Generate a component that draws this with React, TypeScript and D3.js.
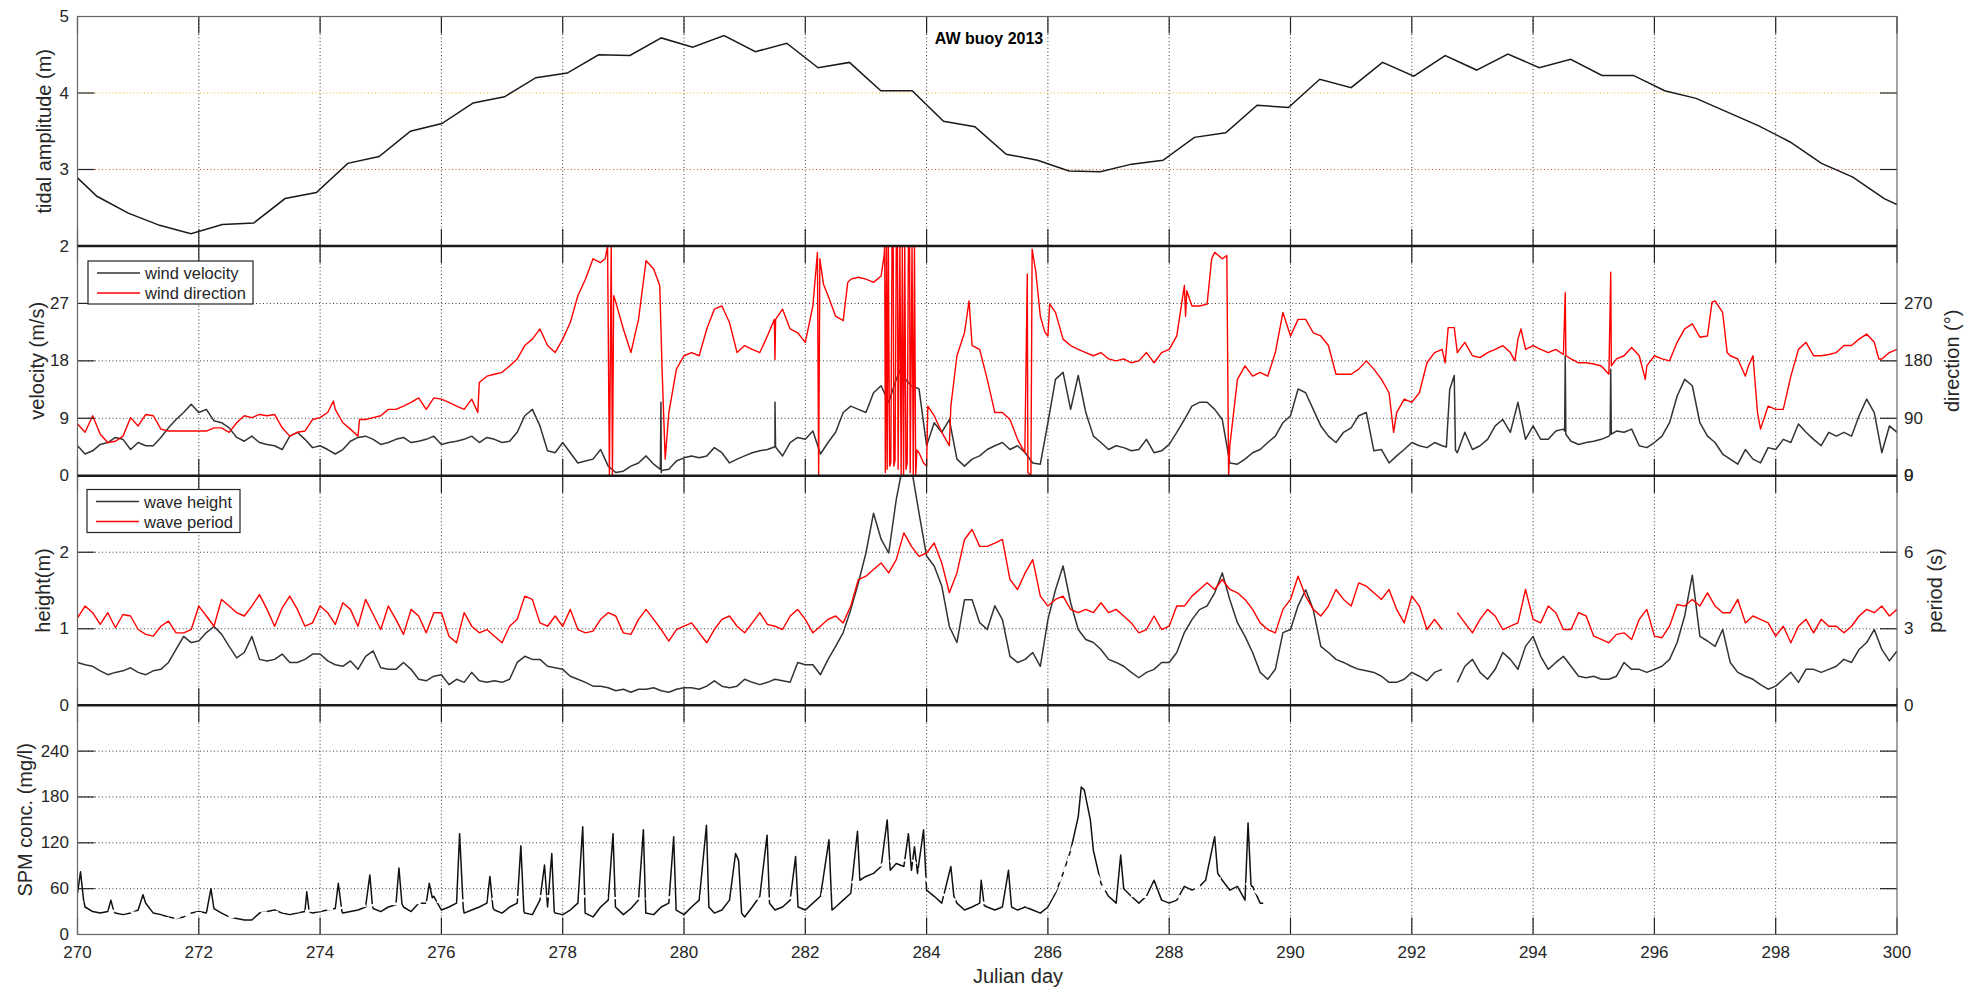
import React from 'react';
import * as d3 from 'd3';

// ---------------- DATA ----------------
const dayTicks = [270, 272, 274, 276, 278, 280, 282, 284, 286, 288, 290, 292, 294, 296, 298, 300];

// tidal amplitude (m): one value per tide
const tidalStartDay = 270.32;
const tidalStep = 0.517;
const tidalFirst: [number, number] = [270, 2.89];
const tidalLast: [number, number] = [300, 2.54];
const tidalAmp = [2.65, 2.43, 2.27, 2.16, 2.28, 2.30, 2.62, 2.70, 3.08, 3.17, 3.5, 3.6, 3.87, 3.95, 4.2, 4.26, 4.5, 4.49, 4.72, 4.6,
  4.75, 4.54, 4.65, 4.33, 4.4, 4.03, 4.03, 3.63, 3.56, 3.2, 3.12, 2.98, 2.97, 3.07, 3.12, 3.42, 3.48, 3.84, 3.81, 4.18,
  4.07, 4.4, 4.22, 4.49, 4.3, 4.51, 4.33, 4.44, 4.23, 4.23, 4.03, 3.93, 3.75, 3.57, 3.36, 3.08, 2.9, 2.62];

// sampled series start at day 270, every 0.125 day
const T0 = 270;
const STEP = 0.125;

const windSpeed = [
  4.7, 3.4, 3.9, 4.9, 5.2, 6.0, 5.7, 4.1,
  5.2, 4.7, 4.7, 6.0, 7.5, 8.8, 9.9, 11.2,
  9.9, 10.4, 8.6, 8.3, 7.5, 6.0, 5.4, 6.2,
  5.2, 4.9, 4.7, 4.1, 6.2, 6.8, 5.7, 4.4,
  4.7, 4.1, 3.4, 4.1, 5.4, 6.0, 6.2, 5.7,
  4.9, 5.2, 5.7, 6.0, 5.2, 5.4, 5.7, 6.2,
  4.9, 5.2, 5.4, 5.7, 6.2, 5.2, 6.0, 5.7,
  5.2, 5.4, 6.8, 9.4, 10.4, 7.8, 3.9, 3.6,
  5.2, 3.6, 2.0, 2.3, 2.6, 4.1, 1.5, 0.5,
  0.7, 1.5, 2.0, 3.1, 1.8, 0.5, 1.0, 2.3,
  2.8, 3.1, 2.8, 3.1, 4.4, 3.6, 2.0, 2.6,
  3.1, 3.6, 3.9, 4.1, 4.7, 3.1, 5.2, 6.0,
  5.7, 7.0, 3.4, 5.2, 6.8, 9.9, 10.9, 10.4,
  9.9, 13.0, 14.1, 11.5, 15.1, 15.7, 14.1, 13.6,
  4.7, 8.3, 6.8, 8.8, 2.6, 1.5, 2.6, 3.1,
  4.1, 4.7, 5.2, 4.1, 4.7, 3.6, 2.0, 1.8,
  8.3, 15.1, 16.2, 10.4, 15.7, 9.9, 6.2, 5.2,
  4.1, 4.7, 4.4, 3.9, 4.1, 5.7, 3.6, 3.9,
  4.9, 6.8, 8.8, 10.9, 11.5, 11.5, 10.4, 8.8,
  2.0, 1.8, 2.6, 3.6, 4.1, 5.2, 6.2, 8.3,
  9.4, 13.6, 13.0, 10.4, 7.8, 6.2, 5.2, 6.8,
  7.5, 9.4, 9.9, 3.9, 4.1, 2.0, 3.1, 4.1,
  5.2, 4.7, 4.4, 5.2, 4.7, 13.5, 3.6, 6.8,
  4.1, 4.7, 5.7, 7.8, 8.8, 6.8, 11.5, 5.7,
  7.8, 5.7, 5.7, 7.0, 7.3, 5.4, 4.9, 5.2,
  5.4, 5.7, 6.2, 7.0, 6.8, 7.3, 4.7, 4.4,
  5.2, 6.2, 8.3, 12.5, 15.1, 14.1, 8.3, 6.2,
  5.2, 3.4, 2.6, 1.8, 4.1, 2.6, 2.0, 4.4,
  4.1, 5.7, 5.2, 8.1, 6.8, 5.7, 4.7, 6.8,
  6.2, 6.8, 6.2, 9.4, 12.0, 9.9, 3.6, 7.8,
  6.8];

const windSpeedSpikes: [number, number][] = [
  [279.61, 1.0], [279.62, 11.5], [279.63, 0.8],
  [281.49, 4.5], [281.5, 11.5], [281.51, 4.5],
  [283.56, 16.5], [283.6, 17.7], [283.66, 15.0],
  [292.57, 4.5], [292.7, 15.7], [292.72, 4.0],
  [294.52, 7.0], [294.53, 18.8], [294.54, 6.5],
  [295.27, 6.5], [295.28, 16.7], [295.29, 6.5]];

const windDir: [number, number][] = [
  [270.0, 81], [270.125, 68], [270.25, 94], [270.375, 65], [270.5, 52], [270.625, 54], [270.75, 62], [270.875, 91],
  [271.0, 78], [271.125, 96], [271.25, 94], [271.375, 73], [271.5, 70], [271.625, 70], [271.75, 70], [271.875, 70],
  [272.0, 70], [272.125, 70], [272.25, 75], [272.375, 75], [272.5, 68], [272.625, 83], [272.75, 94], [272.875, 91],
  [273.0, 96], [273.125, 94], [273.25, 96], [273.375, 75], [273.5, 62], [273.625, 68], [273.75, 70], [273.875, 88],
  [274.0, 91], [274.125, 99], [274.22, 117], [274.25, 104], [274.375, 83], [274.5, 73], [274.625, 62], [274.65, 88], [274.75, 88], [274.875, 91],
  [275.0, 94], [275.125, 104], [275.25, 104], [275.375, 109], [275.5, 115], [275.625, 122], [275.75, 104], [275.875, 122],
  [276.0, 120], [276.125, 115], [276.25, 109], [276.375, 104], [276.5, 120], [276.6, 99], [276.625, 146], [276.75, 156], [276.875, 159],
  [277.0, 162], [277.125, 172], [277.25, 183], [277.375, 204], [277.5, 214], [277.625, 230], [277.75, 204], [277.875, 193],
  [278.0, 214], [278.125, 240], [278.25, 282], [278.375, 308], [278.5, 340], [278.625, 334], [278.7, 340], [278.74, 360], [278.77, 0], [278.8, 360], [278.82, 0], [278.84, 282], [278.875, 272],
  [279.0, 230], [279.125, 193], [279.25, 245], [279.375, 337], [279.5, 324], [279.6, 298], [279.64, 162], [279.69, 26], [279.75, 99], [279.875, 167],
  [280.0, 188], [280.125, 193], [280.25, 188], [280.375, 230], [280.5, 261], [280.625, 266], [280.75, 240], [280.875, 193],
  [281.0, 204], [281.125, 198], [281.25, 193], [281.375, 219], [281.49, 245], [281.5, 182], [281.51, 245], [281.625, 261], [281.75, 230], [281.875, 224],
  [282.0, 209], [282.125, 266], [282.2, 350], [282.22, 0], [282.24, 340], [282.3, 300], [282.375, 282], [282.5, 250], [282.625, 243], [282.7, 303], [282.75, 308], [282.875, 311],
  [283.0, 308], [283.125, 303], [283.25, 313], [283.3, 345],
  [283.31, 360], [283.32, 5], [283.34, 360], [283.35, 10], [283.37, 360], [283.39, 15], [283.41, 20], [283.43, 360], [283.45, 360], [283.46, 15],
  [283.48, 25], [283.5, 360], [283.52, 360], [283.53, 10], [283.56, 360], [283.58, 0], [283.6, 360], [283.62, 0], [283.64, 360], [283.66, 10],
  [283.68, 20], [283.7, 360], [283.72, 360], [283.73, 5], [283.76, 360], [283.78, 0], [283.8, 360], [283.82, 0], [283.84, 40], [283.875, 36],
  [283.95, 20], [284.0, 15], [284.02, 109], [284.125, 94], [284.25, 68], [284.375, 47], [284.4, 109], [284.5, 188], [284.625, 224], [284.7, 274],
  [284.75, 204], [284.875, 198], [285.0, 151], [285.125, 99], [285.25, 99], [285.375, 88], [285.5, 57], [285.62, 36], [285.66, 316], [285.67, 5],
  [285.72, 0], [285.74, 355], [285.8, 320], [285.875, 250], [285.95, 225], [286.0, 219], [286.03, 269], [286.125, 256], [286.25, 214], [286.375, 204],
  [286.5, 198], [286.625, 193], [286.75, 188], [286.875, 193], [287.0, 183], [287.125, 180], [287.25, 183], [287.375, 177], [287.5, 180], [287.625, 193],
  [287.75, 177], [287.875, 193], [288.0, 198], [288.125, 219], [288.25, 298], [288.27, 250], [288.29, 290], [288.375, 266], [288.5, 266], [288.625, 269],
  [288.7, 340], [288.75, 350], [288.875, 340], [288.95, 345], [288.98, 0], [289.0, 47], [289.125, 151], [289.25, 172], [289.375, 156], [289.5, 162],
  [289.625, 156], [289.75, 193], [289.875, 256], [290.0, 219], [290.125, 245], [290.25, 245], [290.375, 224], [290.5, 219], [290.625, 204], [290.75, 159],
  [290.875, 159], [291.0, 159], [291.125, 167], [291.25, 180], [291.375, 167], [291.5, 151], [291.625, 130], [291.7, 68], [291.75, 99], [291.875, 120],
  [292.0, 115], [292.125, 130], [292.25, 177], [292.375, 193], [292.5, 198], [292.55, 177], [292.6, 232], [292.7, 232], [292.75, 193], [292.875, 209],
  [293.0, 188], [293.125, 185], [293.25, 193], [293.375, 198], [293.5, 204], [293.625, 193], [293.7, 180], [293.75, 214], [293.8, 230], [293.875, 198],
  [294.0, 204], [294.125, 198], [294.25, 193], [294.375, 198], [294.5, 190], [294.53, 287], [294.54, 188], [294.625, 183], [294.75, 177], [294.875, 177],
  [295.0, 175], [295.125, 172], [295.25, 159], [295.28, 319], [295.29, 172], [295.375, 183], [295.5, 188], [295.625, 201], [295.75, 188], [295.85, 151],
  [295.875, 172], [296.0, 188], [296.125, 183], [296.25, 180], [296.375, 209], [296.5, 230], [296.625, 238], [296.75, 217], [296.875, 219], [296.95, 272],
  [297.0, 274], [297.125, 256], [297.2, 193], [297.25, 188], [297.375, 183], [297.5, 156], [297.55, 172], [297.625, 188], [297.7, 99], [297.75, 73],
  [297.875, 109], [298.0, 104], [298.125, 104], [298.25, 156], [298.375, 198], [298.5, 209], [298.625, 188], [298.75, 188], [298.875, 190], [299.0, 193],
  [299.125, 204], [299.25, 204], [299.375, 214], [299.5, 222], [299.625, 209], [299.7, 183], [299.75, 183], [299.875, 193], [300.0, 198]];

const waveHeight: (number | null)[] = [
  0.56, 0.53, 0.51, 0.45, 0.40, 0.43, 0.45, 0.49,
  0.43, 0.40, 0.45, 0.47, 0.56, 0.73, 0.90, 0.82,
  0.84, 0.95, 1.03, 0.93, 0.77, 0.62, 0.69, 0.90,
  0.60, 0.58, 0.60, 0.67, 0.56, 0.56, 0.60, 0.67,
  0.67, 0.58, 0.53, 0.51, 0.58, 0.47, 0.64, 0.71,
  0.49, 0.47, 0.47, 0.56, 0.47, 0.34, 0.32, 0.38,
  0.40, 0.27, 0.34, 0.30, 0.43, 0.32, 0.30, 0.32,
  0.30, 0.34, 0.56, 0.64, 0.60, 0.60, 0.51, 0.49,
  0.47, 0.38, 0.34, 0.30, 0.25, 0.25, 0.23, 0.19,
  0.21, 0.17, 0.21, 0.21, 0.23, 0.19, 0.17, 0.21,
  0.23, 0.23, 0.21, 0.25, 0.32, 0.25, 0.23, 0.25,
  0.34, 0.30, 0.27, 0.30, 0.34, 0.32, 0.30, 0.56,
  0.53, 0.53, 0.40, 0.60, 0.77, 0.95, 1.25, 1.60,
  1.99, 2.51, 2.17, 1.99, 2.69, 3.2, 3.1, 2.51,
  1.95, 1.82, 1.56, 1.03, 0.82, 1.38, 1.38, 1.08,
  0.99, 1.30, 1.12, 0.64, 0.56, 0.60, 0.69, 0.51,
  1.12, 1.51, 1.82, 1.34, 0.99, 0.86, 0.82, 0.73,
  0.60, 0.56, 0.51, 0.43, 0.36, 0.43, 0.47, 0.56,
  0.56, 0.69, 0.95, 1.12, 1.25, 1.30, 1.47, 1.73,
  1.38, 1.08, 0.90, 0.69, 0.43, 0.34, 0.47, 0.95,
  0.99, 1.30, 1.51, 1.25, 0.77, 0.69, 0.60, 0.56,
  0.51, 0.47, 0.45, 0.43, 0.38, 0.30, 0.30, 0.34,
  0.43, 0.38, 0.32, 0.43, 0.47, null, 0.30, 0.51,
  0.60, 0.43, 0.34, 0.47, 0.69, 0.60, 0.47, 0.77,
  0.90, 0.64, 0.47, 0.56, 0.64, 0.51, 0.38, 0.36,
  0.38, 0.34, 0.34, 0.38, 0.56, 0.47, 0.47, 0.43,
  0.47, 0.51, 0.60, 0.82, 1.17, 1.70, 0.90, 0.84,
  0.77, 0.99, 0.56, 0.43, 0.38, 0.34, 0.27, 0.21,
  0.25, 0.34, 0.43, 0.30, 0.47, 0.47, 0.43, 0.47,
  0.51, 0.60, 0.56, 0.73, 0.82, 0.99, 0.73, 0.58,
  0.71];

const wavePeriod: (number | null)[] = [
  3.43, 3.89, 3.63, 3.17, 3.63, 3.04, 3.56, 3.50,
  2.97, 2.78, 2.71, 3.10, 3.30, 2.84, 2.84, 2.97,
  3.89, 3.50, 3.10, 4.15, 3.89, 3.63, 3.50, 3.89,
  4.34, 3.76, 3.10, 3.82, 4.28, 3.76, 3.10, 3.23,
  3.89, 3.63, 3.17, 4.02, 3.76, 3.10, 4.15, 3.56,
  2.97, 3.89, 3.37, 2.78, 3.76, 3.50, 2.84, 3.63,
  3.63, 2.71, 2.45, 3.63, 3.10, 2.84, 2.97, 2.71,
  2.45, 3.10, 3.37, 4.28, 4.15, 3.23, 3.10, 3.50,
  3.10, 3.76, 2.97, 2.84, 2.91, 3.37, 3.63, 3.50,
  2.84, 2.78, 3.37, 3.76, 3.37, 2.97, 2.52, 2.97,
  3.10, 3.23, 2.84, 2.45, 2.97, 3.37, 3.50, 3.10,
  2.84, 3.23, 3.63, 3.17, 3.10, 2.97, 3.50, 3.76,
  3.37, 2.84, 3.10, 3.37, 3.50, 3.23, 3.89, 4.93,
  5.06, 5.32, 5.58, 5.19, 5.71, 6.76, 6.23, 5.84,
  5.97, 6.36, 5.58, 4.41, 5.19, 6.50, 6.89, 6.23,
  6.23, 6.36, 6.50, 4.93, 4.54, 5.19, 5.71, 4.28,
  3.89, 4.15, 4.28, 3.76, 3.63, 3.76, 3.63, 4.02,
  3.63, 3.76, 3.50, 3.23, 2.84, 2.97, 3.50, 2.97,
  3.10, 3.89, 3.89, 4.28, 4.54, 4.80, 4.54, 4.93,
  4.54, 4.41, 4.15, 3.76, 3.23, 2.97, 2.84, 3.76,
  4.15, 5.06, 4.28, 3.76, 3.50, 3.89, 4.54, 4.15,
  3.89, 4.80, 4.67, 4.41, 4.15, 4.54, 3.76, 3.23,
  4.28, 3.89, 2.97, 3.37, 2.97, null, 3.63, 3.23,
  2.84, 3.37, 3.76, 3.50, 2.97, 3.10, 3.23, 4.54,
  3.37, 3.23, 3.89, 3.63, 2.97, 2.97, 3.63, 3.50,
  2.71, 2.58, 2.45, 2.78, 2.84, 2.58, 3.37, 3.76,
  2.71, 2.65, 3.10, 3.95, 3.89, 4.15, 3.89, 4.41,
  3.89, 3.63, 3.63, 4.15, 3.23, 3.50, 3.37, 3.23,
  2.71, 3.10, 2.45, 3.10, 3.37, 2.84, 3.37, 3.10,
  3.10, 2.84, 3.10, 3.50, 3.76, 3.63, 3.89, 3.50,
  3.76];

const spm: [number, number][] = [
  [270.0, 54], [270.05, 82], [270.1, 45], [270.125, 36], [270.25, 30], [270.375, 28], [270.5, 30], [270.55, 45], [270.6, 30], [270.625, 28], [270.75, 26], [270.875, 28],
  [271.0, 32], [271.08, 52], [271.125, 41], [271.25, 28], [271.375, 26], [271.5, 23], [271.625, 21], [271.75, 23], [271.875, 28],
  [272.0, 30], [272.125, 28], [272.2, 60], [272.25, 34], [272.375, 28], [272.5, 23], [272.625, 21], [272.75, 19], [272.875, 19],
  [273.0, 28], [273.125, 30], [273.25, 32], [273.375, 28], [273.5, 26], [273.625, 28], [273.75, 30], [273.78, 56], [273.82, 30], [273.875, 28],
  [274.0, 30], [274.125, 32], [274.25, 34], [274.3, 67], [274.36, 30], [274.375, 28], [274.5, 30], [274.625, 32], [274.75, 36], [274.82, 78], [274.86, 40], [274.875, 34],
  [275.0, 30], [275.125, 36], [275.25, 39], [275.3, 87], [275.35, 40], [275.375, 36], [275.5, 30], [275.625, 41], [275.75, 41], [275.8, 67], [275.85, 48], [275.875, 50],
  [276.0, 32], [276.125, 36], [276.25, 41], [276.3, 132], [276.36, 35], [276.375, 28], [276.5, 32], [276.625, 36], [276.75, 41], [276.8, 76], [276.85, 35], [276.875, 32],
  [277.0, 28], [277.125, 36], [277.25, 41], [277.31, 116], [277.36, 30], [277.375, 28], [277.5, 26], [277.625, 45], [277.7, 91], [277.75, 36], [277.82, 106], [277.86, 30], [277.875, 28],
  [278.0, 26], [278.125, 32], [278.25, 41], [278.33, 141], [278.37, 28], [278.5, 23], [278.625, 36], [278.75, 45], [278.83, 132], [278.87, 36],
  [279.0, 26], [279.125, 34], [279.25, 45], [279.33, 137], [279.37, 28], [279.5, 26], [279.625, 36], [279.75, 41], [279.83, 128], [279.87, 32],
  [280.0, 26], [280.125, 36], [280.25, 45], [280.37, 143], [280.41, 36], [280.5, 28], [280.625, 32], [280.75, 45], [280.85, 106], [280.9, 97], [280.95, 28],
  [281.0, 23], [281.125, 36], [281.25, 50], [281.37, 130], [281.41, 41], [281.5, 32], [281.625, 36], [281.75, 45], [281.84, 102], [281.88, 36],
  [282.0, 32], [282.125, 41], [282.25, 50], [282.39, 124], [282.44, 32], [282.5, 36], [282.625, 45], [282.75, 54], [282.86, 135], [282.9, 71],
  [283.0, 76], [283.125, 80], [283.25, 89], [283.35, 150], [283.4, 84], [283.5, 93], [283.625, 89], [283.7, 132], [283.75, 84], [283.8, 115], [283.85, 80], [283.95, 137], [284.0, 58],
  [284.125, 50], [284.25, 41], [284.4, 89], [284.45, 50], [284.5, 41], [284.625, 32], [284.75, 36], [284.875, 41], [284.9, 71], [284.95, 38],
  [285.0, 36], [285.125, 32], [285.25, 36], [285.35, 84], [285.4, 36], [285.5, 32], [285.625, 36], [285.75, 32], [285.875, 28],
  [286.0, 36], [286.125, 54], [286.25, 80], [286.375, 110], [286.5, 154], [286.55, 193], [286.6, 189], [286.7, 150], [286.75, 110], [286.875, 67],
  [287.0, 50], [287.125, 41], [287.2, 104], [287.25, 60], [287.375, 50], [287.5, 41], [287.625, 50], [287.75, 71], [287.875, 45],
  [288.0, 41], [288.125, 45], [288.25, 63], [288.375, 58], [288.5, 63], [288.6, 71], [288.75, 128], [288.8, 80], [288.875, 71],
  [289.0, 58], [289.125, 63], [289.25, 45], [289.3, 146], [289.35, 63], [289.375, 63], [289.5, 41], [289.55, 41]];

const spmTrend: [number, number][] = [
  [270, 45], [270.5, 32], [271, 28], [271.5, 21], [272, 28], [272.5, 23], [273, 28], [273.5, 30], [274, 32], [274.5, 36],
  [275, 39], [275.5, 41], [276, 43], [276.5, 45], [277, 47], [277.5, 50], [278, 50], [278.5, 50], [279, 47], [279.5, 47],
  [280, 50], [280.5, 50], [281, 47], [281.5, 47], [282, 50], [282.5, 56], [283, 80], [283.5, 97], [283.75, 97], [284, 71],
  [284.5, 45], [285, 41], [285.5, 36], [286, 45], [286.25, 80], [286.5, 124], [286.75, 89], [287, 54], [287.5, 50], [288, 47],
  [288.5, 63], [289, 76], [289.5, 50]];

// tick labels per panel
const p1LeftTicks = [2, 3, 4, 5];
const p2LeftTicks = [0, 9, 18, 27];
const p2RightTicks = [0, 90, 180, 270];
const p3LeftTicks = [0, 1, 2];
const p3RightTicks = [0, 3, 6, 9];
const p4LeftTicks = [0, 60, 120, 180, 240];

// ---------------- LAYOUT ----------------
const X0 = 77.5, X1 = 1897;
const P = [
  { top: 16.5, bottom: 246 },
  { top: 246, bottom: 475.7 },
  { top: 475.7, bottom: 705.3 },
  { top: 705.3, bottom: 934.5 },
];
const FONT = '"Liberation Sans", Arial, Helvetica, sans-serif';
const TXT = '#262626';
const TICK = 17;

type Pt = [number, number | null];

export default function App() {
  const x = d3.scaleLinear().domain([270, 300]).range([X0, X1]);
  const y1 = d3.scaleLinear().domain([2, 5]).range([P[0].bottom, P[0].top]);
  const y2v = d3.scaleLinear().domain([0, 36]).range([P[1].bottom, P[1].top]);
  const y2d = d3.scaleLinear().domain([0, 360]).range([P[1].bottom, P[1].top]);
  const y3h = d3.scaleLinear().domain([0, 3]).range([P[2].bottom, P[2].top]);
  const y3p = d3.scaleLinear().domain([0, 9]).range([P[2].bottom, P[2].top]);
  const y4 = d3.scaleLinear().domain([0, 300]).range([P[3].bottom, P[3].top]);

  const mk = (ys: d3.ScaleLinear<number, number>, curve: d3.CurveFactory = d3.curveLinear) =>
    d3.line<Pt>().defined(d => d[1] != null).x(d => x(d[0])).y(d => ys(d[1] as number)).curve(curve);

  const sampled = (arr: (number | null)[]): Pt[] => arr.map((v, i) => [T0 + i * STEP, v]);

  const tidalPts: Pt[] = [tidalFirst, ...tidalAmp.map((v, i) => [tidalStartDay + i * tidalStep, v] as Pt), tidalLast];
  const windSpeedPts: Pt[] = (sampled(windSpeed) as Pt[]).concat(windSpeedSpikes).sort((a, b) => a[0] - b[0]);

  const gridDays = dayTicks.filter(d => d > 270 && d < 300);

  const vGrid = (pi: number) =>
    gridDays.map(d => (
      <line key={'vg' + pi + d} x1={x(d)} x2={x(d)} y1={P[pi].top} y2={P[pi].bottom}
        stroke="#3a3a3a" strokeWidth={1} strokeDasharray="1 2.5" />
    ));
  const hGrid = (pi: number, ys: number[], color = '#3a3a3a') =>
    ys.map(yv => (
      <line key={'hg' + pi + yv + color} x1={X0} x2={X1} y1={yv} y2={yv}
        stroke={color} strokeWidth={1} strokeDasharray="1 2.5" />
    ));
  const xTicks = (pi: number) =>
    dayTicks.map(d => (
      <g key={'xt' + pi + d}>
        <line x1={x(d)} x2={x(d)} y1={P[pi].top} y2={P[pi].top + TICK} stroke="#222" strokeWidth={1.2} />
        <line x1={x(d)} x2={x(d)} y1={P[pi].bottom} y2={P[pi].bottom - TICK} stroke="#222" strokeWidth={1.2} />
      </g>
    ));
  const yTicks = (pi: number, ys: number[]) =>
    ys.map(yv => (
      <g key={'yt' + pi + yv}>
        <line x1={X0} x2={X0 + TICK} y1={yv} y2={yv} stroke="#222" strokeWidth={1.2} />
        <line x1={X1} x2={X1 - TICK} y1={yv} y2={yv} stroke="#222" strokeWidth={1.2} />
      </g>
    ));
  const leftLabels = (vals: number[], ys: d3.ScaleLinear<number, number>, k: string) =>
    vals.map(v => (
      <text key={k + v} x={69} y={ys(v)} textAnchor="end" dominantBaseline="central"
        fontSize={17} fill={TXT} fontFamily={FONT}>{v}</text>
    ));
  const rightLabels = (vals: number[], ys: d3.ScaleLinear<number, number>, k: string) =>
    vals.map(v => (
      <text key={k + v} x={1904} y={ys(v)} textAnchor="start" dominantBaseline="central"
        fontSize={17} fill={TXT} fontFamily={FONT}>{v}</text>
    ));
  const yLabel = (t: string, cx: number, cy: number) => (
    <text transform={`translate(${cx},${cy}) rotate(-90)`} textAnchor="middle" dominantBaseline="central"
      fontSize={20} fill={TXT} fontFamily={FONT}>{t}</text>
  );
  const legend = (bx: number, by: number, bw: number, bh: number, items: [string, string][]) => (
    <g>
      <rect x={bx} y={by} width={bw} height={bh} fill="#fff" stroke="#222" strokeWidth={1.2} />
      {items.map(([label, color], i) => (
        <g key={label}>
          <line x1={bx + 9} x2={bx + 52} y1={by + 12 + i * 20} y2={by + 12 + i * 20} stroke={color} strokeWidth={1.3} />
          <text x={bx + 57} y={by + 12 + i * 20} dominantBaseline="central" fontSize={16.5} fill={TXT} fontFamily={FONT}>{label}</text>
        </g>
      ))}
    </g>
  );

  return (
    <svg width={1966} height={990} style={{ position: 'absolute', left: 0, top: 0, background: '#fff' }}>
      <rect x={0} y={0} width={1966} height={990} fill="#fff" />
      <defs>
        {P.map((p, i) => (
          <clipPath id={'clip' + i} key={i}>
            <rect x={X0} y={p.top} width={X1 - X0} height={p.bottom - p.top} />
          </clipPath>
        ))}
      </defs>

      {/* grids */}
      {P.map((_, i) => <g key={'g' + i}>{vGrid(i)}</g>)}
      {hGrid(0, [y1(4)], '#EDB120')}
      {hGrid(0, [y1(3)], '#D95319')}
      {hGrid(1, [9, 18, 27].map(v => y2v(v)))}
      {hGrid(2, [1, 2].map(v => y3h(v)))}
      {hGrid(3, [60, 120, 180, 240].map(v => y4(v)))}

      {/* panel 1 */}
      <g clipPath="url(#clip0)">
        <path d={mk(y1)(tidalPts) || ''} fill="none" stroke="#1a1a1a" strokeWidth={1.5} />
      </g>
      {/* panel 2 */}
      <g clipPath="url(#clip1)">
        <path d={mk(y2v)(windSpeedPts) || ''} fill="none" stroke="#333" strokeWidth={1.5} strokeLinejoin="round" />
        <path d={mk(y2d)(windDir) || ''} fill="none" stroke="#ff0000" strokeWidth={1.4} strokeLinejoin="round" />
      </g>
      {/* panel 3 */}
      <g clipPath="url(#clip2)">
        <path d={mk(y3h)(sampled(waveHeight)) || ''} fill="none" stroke="#333" strokeWidth={1.5} strokeLinejoin="round" />
        <path d={mk(y3p)(sampled(wavePeriod)) || ''} fill="none" stroke="#ff0000" strokeWidth={1.4} strokeLinejoin="round" />
      </g>
      {/* panel 4 */}
      <g clipPath="url(#clip3)">
        <path d={mk(y4)(spm) || ''} fill="none" stroke="#111" strokeWidth={1.5} strokeLinejoin="round" />
        <path d={mk(y4, d3.curveMonotoneX)(spmTrend) || ''} fill="none" stroke="#fff" strokeWidth={2.4} strokeDasharray="6 5" />
      </g>

      {/* ticks */}
      {P.map((_, i) => <g key={'xt' + i}>{xTicks(i)}</g>)}
      {yTicks(0, [3, 4].map(v => y1(v)))}
      {yTicks(1, [9, 18, 27].map(v => y2v(v)))}
      {yTicks(2, [1, 2].map(v => y3h(v)))}
      {yTicks(3, [60, 120, 180, 240].map(v => y4(v)))}

      {/* frames */}
      <rect x={X0} y={P[0].top} width={X1 - X0} height={P[3].bottom - P[0].top} fill="none" stroke="#666" strokeWidth={1.2} />
      {[P[0].bottom, P[1].bottom, P[2].bottom].map(yb => (
        <line key={'b' + yb} x1={X0} x2={X1} y1={yb} y2={yb} stroke="#1a1a1a" strokeWidth={2.4} />
      ))}

      {/* legends */}
      {legend(88, 261, 165, 43, [['wind velocity', '#333'], ['wind direction', '#ff0000']])}
      {legend(87, 489.5, 153, 43, [['wave height', '#333'], ['wave period', '#ff0000']])}

      {/* tick labels */}
      {leftLabels(p1LeftTicks, y1, 'l1')}
      {leftLabels(p2LeftTicks, y2v, 'l2')}
      {leftLabels(p3LeftTicks, y3h, 'l3')}
      {leftLabels(p4LeftTicks, y4, 'l4')}
      {rightLabels(p2RightTicks, y2d, 'r2')}
      {rightLabels(p3RightTicks, y3p, 'r3')}
      {dayTicks.map(d => (
        <text key={'xl' + d} x={x(d)} y={958} textAnchor="middle" fontSize={17} fill={TXT} fontFamily={FONT}>{d}</text>
      ))}

      {/* axis labels */}
      {yLabel('tidal amplitude (m)', 44, (P[0].top + P[0].bottom) / 2)}
      {yLabel('velocity (m/s)', 37, (P[1].top + P[1].bottom) / 2)}
      {yLabel('height(m)', 43, (P[2].top + P[2].bottom) / 2)}
      {yLabel('SPM conc. (mg/l)', 25, (P[3].top + P[3].bottom) / 2)}
      {yLabel('direction (°)', 1952, (P[1].top + P[1].bottom) / 2)}
      {yLabel('period (s)', 1935, (P[2].top + P[2].bottom) / 2)}
      <text x={1018} y={983} textAnchor="middle" fontSize={20} fill={TXT} fontFamily={FONT}>Julian day</text>
      <text x={989} y={38} textAnchor="middle" dominantBaseline="central" fontSize={16} fontWeight="bold" fill="#000" fontFamily={FONT}>AW buoy 2013</text>
    </svg>
  );
}
